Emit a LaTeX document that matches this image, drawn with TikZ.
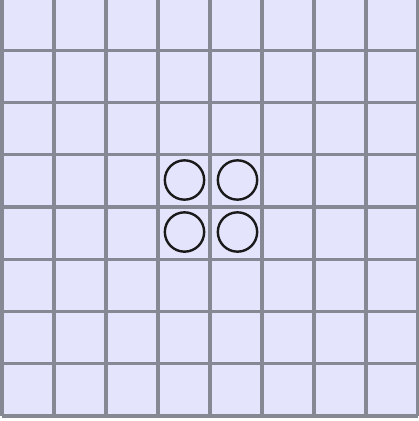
\documentclass[tikz,border=0pt]{standalone}
\definecolor{cellfill}{HTML}{E4E4FC}
\definecolor{gridline}{HTML}{868894}
\definecolor{ringcol}{HTML}{1A1A1A}
\tikzset{
  gridstroke/.style={draw=gridline,line width=2.6pt},
  ring/.style={circle,draw=ringcol,line width=1.8pt,minimum size=29.5pt,inner sep=0pt}
}
\begin{document}
\begin{tikzpicture}[x=0.75pt,y=-0.75pt]
\useasboundingbox (0,0) rectangle (418,421);
\fill[white] (0,0) rectangle (418,421);
\fill[cellfill] (2,-2) rectangle (418,416);
\foreach \i in {0,...,8} {
  \draw[gridstroke] ({2+52*\i},-2) -- ({2+52*\i},416);
  \draw[gridstroke] (2,{-2+52.25*\i}) -- (418,{-2+52.25*\i});
}
\node[ring] (c1) at (184.5,180) {};
\node[ring] (c2) at (237.5,180) {};
\node[ring] (c3) at (184.5,232) {};
\node[ring] (c4) at (237.5,232) {};
\end{tikzpicture}
\end{document}
